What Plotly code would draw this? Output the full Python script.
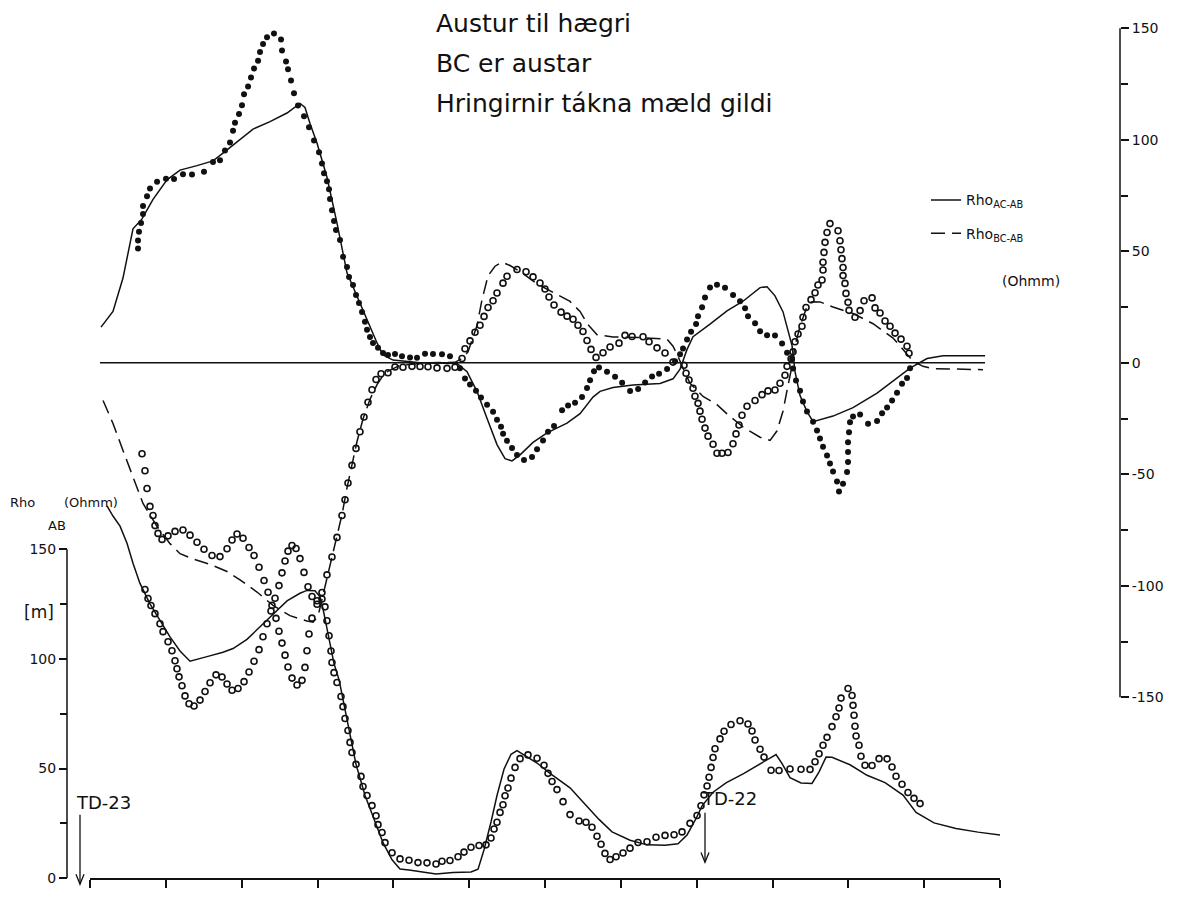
import plotly.graph_objects as go

# ---------------- data (x in distance units along the profile, 0..12 = tick marks) -------------
x_ticks = list(range(13))

# Top panel (right axis, Ohmm): calculated Rho_AC-AB (solid)
A_t = [0.145,0.303,0.435,0.567,0.686,0.831,1.015,1.187,1.411,1.622,1.754,1.939,2.150,2.374,2.598,2.769,2.835,2.901,2.994,3.125,
       3.257,3.389,3.521,3.653,3.785,3.864,3.996,4.352,4.840,4.972,5.104,5.236,5.367,5.473,5.565,5.671,5.842,6.027,6.290,6.462,
       6.633,6.726,6.897,7.161,7.517,7.688,7.781,7.873,7.952,8.176,8.400,8.611,8.836,8.928,9.033,9.139,9.205,9.258,9.297,9.363,
       9.455,9.535,9.798,10.062,10.379,10.590,10.814,11.038,11.249,11.803]
A_v = [16.0,23.0,38.0,60.1,64.5,73.3,82.0,86.4,88.4,90.5,94.0,99.2,104.8,108.1,112.0,116.3,114.5,107.3,98.4,83.2,
       62.6,40.3,29.6,19.2,8.9,3.5,1.2,0.0,-0.3,-4.0,-12.9,-25.0,-36.7,-43.0,-44.0,-41.3,-35.7,-31.4,-27.1,-22.8,
       -15.4,-12.8,-11.1,-10.0,-9.3,-7.2,-2.9,6.0,11.7,17.3,23.3,27.6,33.7,34.1,30.0,22.8,13.9,7.6,-4.0,-14.7,
       -21.9,-26.4,-23.9,-20.1,-13.6,-8.0,-2.4,1.9,3.1,3.1]

# calculated Rho_BC-AB (dashed)
B_t = [0.172,0.303,0.435,0.567,0.699,0.884,1.055,1.187,1.358,1.582,1.807,1.978,2.202,2.413,2.637,2.861,2.941,3.007,3.059,3.125,
       3.191,3.257,3.323,3.389,3.455,3.521,3.600,3.692,3.785,3.890,4.088,4.484,4.813,4.906,4.985,5.104,5.170,5.249,5.341,5.434,
       5.539,5.671,5.895,6.106,6.330,6.462,6.567,6.686,6.897,7.253,7.609,7.688,7.754,7.820,7.912,8.084,8.268,8.400,8.611,8.836,
       8.968,9.060,9.139,9.205,9.258,9.297,9.363,9.455,9.521,9.626,9.798,10.062,10.326,10.590,10.774,10.853,10.985,11.117,11.776]
B_v = [-16.9,-27.2,-39.3,-51.0,-63.1,-73.4,-81.1,-85.6,-88.0,-90.4,-93.6,-97.3,-102.8,-108.8,-113.4,-115.8,-116.3,-113.6,-106.1,-97.3,
       -88.4,-78.3,-68.1,-56.1,-46.0,-35.3,-25.2,-16.4,-9.8,-4.5,-1.1,0.0,0.2,1.9,4.9,16.8,28.4,39.0,43.3,45.1,
       43.6,40.9,35.4,31.7,27.5,23.0,17.1,12.6,11.6,11.3,10.6,7.4,2.9,-2.4,-9.2,-15.1,-18.8,-22.9,-28.8,-33.4,
       -34.8,-30.5,-21.6,-10.1,-1.3,7.6,16.4,25.2,27.4,27.3,25.0,22.1,17.5,11.1,3.8,0.7,-1.6,-2.6,-3.1]

# measured Rho_AC-AB (filled dots)
C_t = [0.633,0.633,0.646,0.673,0.699,0.699,0.752,0.791,0.884,1.002,1.108,1.226,1.345,1.503,1.622,1.714,1.780,1.846,1.886,1.912,
       1.965,2.004,2.031,2.084,2.123,2.163,2.216,2.242,2.282,2.334,2.426,2.519,2.532,2.585,2.611,2.651,2.690,2.743,2.822,2.888,
       2.954,3.020,3.059,3.086,3.125,3.152,3.165,3.191,3.218,3.244,3.297,3.337,3.389,3.416,3.468,3.508,3.547,3.587,3.626,3.653,
       3.692,3.732,3.798,3.864,3.930,4.022,
       4.114,4.220,4.312,4.418,4.523,4.642,4.747,4.879,4.945,5.011,5.090,5.156,5.236,5.315,5.367,5.420,5.447,5.499,5.565,5.631,
       5.723,5.829,5.895,5.974,6.040,6.119,6.225,6.304,6.396,6.488,6.554,6.594,6.646,6.712,6.818,6.924,7.017,7.122,7.228,7.320,
       7.412,7.504,7.610,7.715,7.781,7.820,7.873,7.926,7.992,8.018,8.071,8.110,8.176,8.268,8.374,8.480,8.572,8.638,8.677,8.770,
       8.836,8.928,9.033,9.126,9.192,9.258,9.271,9.310,9.363,9.402,9.455,9.535,9.587,9.626,9.666,9.719,9.758,9.798,9.851,9.877,
       9.930,9.983,9.996,9.996,9.996,10.009,10.022,10.062,10.155,10.260,10.379,10.445,10.511,10.577,10.642,10.708,10.774,10.814]
C_v = [51.2,54.8,58.8,62.7,66.7,70.3,74.7,78.2,81.2,82.5,82.4,84.5,84.4,85.7,90.0,90.8,95.2,98.8,104.0,107.6,
       111.6,115.5,120.4,123.9,127.9,131.9,135.4,139.4,142.9,146.0,147.7,144.9,140.0,135.1,131.6,126.6,120.8,115.4,110.5,105.6,
       99.7,94.4,89.4,85.0,81.4,77.8,73.4,68.4,63.6,59.5,55.0,47.5,43.0,38.5,34.9,30.4,26.8,22.8,18.4,14.8,
       11.6,8.9,6.7,4.4,3.5,3.9,
       2.9,2.4,2.3,4.0,3.9,3.8,2.9,-2.5,-7.0,-9.7,-12.5,-15.6,-18.8,-22.0,-25.6,-28.7,-31.8,-35.0,-38.2,-41.3,
       -43.6,-42.3,-38.8,-34.9,-30.9,-28.4,-21.3,-19.2,-17.9,-15.3,-11.3,-7.8,-3.8,-2.1,-4.0,-6.3,-9.0,-12.6,-11.8,-8.8,
       -6.2,-4.9,-2.8,0.7,3.8,6.4,10.4,13.9,17.4,20.9,24.9,29.3,33.7,35.0,33.6,30.4,27.6,24.5,20.9,17.7,
       14.1,12.3,12.2,8.6,4.5,1.8,-2.6,-8.0,-12.5,-17.4,-21.9,-26.4,-30.4,-34.0,-37.6,-41.6,-45.2,-48.8,-53.2,-57.7,
       -54.2,-49.0,-44.5,-40.0,-35.6,-31.2,-26.7,-24.1,-23.2,-27.3,-26.1,-22.6,-20.0,-16.9,-13.4,-9.4,-6.8,-2.4]

# measured Rho_BC-AB (open circles)
D_t = [0.686,0.725,0.752,0.791,0.831,0.857,0.897,0.950,1.029,1.121,1.226,1.319,1.411,1.503,1.609,1.714,1.807,1.873,1.939,2.018,
       2.097,2.163,2.229,2.295,2.348,2.400,2.453,2.492,2.532,2.572,2.611,2.664,2.730,2.796,2.835,2.861,2.888,2.927,2.994,3.059,
       3.125,3.191,3.257,3.323,3.363,3.402,3.455,3.508,3.560,3.613,3.666,3.719,3.772,3.838,3.930,4.022,4.127,4.246,4.352,4.457,
       4.576,4.708,4.813,
       4.906,4.945,5.011,5.077,5.143,5.196,5.249,5.315,5.367,5.446,5.499,5.631,5.750,5.842,5.934,6.000,6.053,6.119,6.212,6.291,
       6.370,6.435,6.501,6.554,6.607,6.673,6.765,6.858,6.976,7.055,7.148,7.293,7.372,7.477,7.583,7.688,7.833,7.860,7.899,7.952,
       7.978,8.018,8.044,8.071,8.110,8.150,8.216,8.268,8.334,8.413,8.479,8.519,8.558,8.598,8.664,8.770,8.862,8.941,9.033,9.099,
       9.165,9.192,9.245,9.271,9.297,9.337,9.389,9.402,9.442,9.508,9.561,9.600,9.653,9.666,9.666,9.679,9.693,9.719,9.758,9.864,
       9.890,9.903,9.916,9.930,9.930,9.956,9.969,9.996,10.009,10.088,10.155,10.207,10.313,10.352,10.418,10.484,10.550,10.616,10.695,10.774,
       10.800]
D_v = [-40.8,-48.4,-56.4,-64.4,-68.5,-73.0,-76.5,-79.2,-77.6,-75.6,-75.0,-77.3,-80.5,-83.6,-86.4,-86.9,-83.4,-79.5,-76.8,-78.7,
       -82.8,-86.4,-91.7,-97.6,-102.9,-108.8,-114.6,-120.4,-125.7,-131.1,-136.4,-141.4,-144.5,-142.4,-136.6,-129.1,-121.6,-114.5,-108.3,-103.0,
       -95.1,-87.1,-78.3,-68.5,-61.4,-53.9,-46.0,-38.4,-30.9,-24.3,-17.7,-12.1,-7.5,-4.9,-4.5,-1.9,-2.0,-1.6,-1.7,-1.8,
       -2.3,-2.5,-2.0,
       1.9,6.3,9.8,13.7,16.8,20.8,24.8,27.8,31.3,35.7,38.8,41.8,40.8,38.5,35.8,33.1,29.5,25.9,22.7,20.9,
       19.5,16.8,14.0,10.0,6.0,2.4,4.5,7.1,8.8,12.3,11.8,11.7,9.4,6.7,4.4,0.3,-1.1,-4.7,-7.7,-11.4,
       -15.0,-18.2,-21.7,-25.3,-29.3,-32.9,-36.5,-40.6,-40.6,-40.2,-36.3,-31.9,-27.9,-23.5,-19.5,-16.9,-14.3,-12.6,-12.2,-9.2,
       -5.6,-1.6,1.8,4.9,9.4,12.9,16.4,20.4,24.8,28.3,31.4,34.9,37.1,41.6,45.1,49.5,54.0,58.4,62.4,59.2,
       54.7,50.7,46.7,42.7,39.1,35.6,31.1,27.1,23.5,20.4,23.4,27.8,29.1,24.6,22.3,18.7,16.4,13.3,10.6,7.4,
       4.3]

# Bottom panel (left axis, Rho_AB Ohmm): calculated (solid)
E_t = [0.224,0.303,0.396,0.488,0.567,0.659,0.791,0.923,1.055,1.187,1.319,1.543,1.754,1.886,2.070,2.242,2.413,2.598,2.769,2.862,
       2.967,3.033,3.073,3.125,3.165,3.218,3.284,3.402,3.508,3.627,3.745,3.864,3.983,4.088,4.207,4.325,4.563,4.787,5.024,5.117,
       5.196,5.288,5.367,5.460,5.552,5.631,5.750,5.895,6.066,6.330,6.501,6.712,6.884,7.121,7.345,7.583,7.754,7.873,7.992,8.071,
       8.216,8.387,8.624,8.862,8.981,9.047,9.126,9.231,9.376,9.521,9.614,9.706,9.785,10.022,10.247,10.484,10.721,10.893,11.130,11.420,
       11.710,12.0]
E_v = [169.7,165.1,160.5,152.7,143.6,134.4,125.1,117.4,110.0,103.6,98.9,101.0,103.0,104.7,108.9,114.6,120.3,126.4,129.9,131.2,
       131.0,128.3,122.8,113.7,106.9,97.8,90.5,70.5,51.9,37.7,27.2,16.2,8.4,4.2,3.7,3.1,1.9,2.6,2.8,4.1,
       13.0,25.6,37.7,49.8,56.5,58.2,55.8,52.5,47.8,41.2,34.7,26.8,21.1,17.3,15.2,15.0,15.7,19.7,27.2,33.0,
       39.2,43.5,47.8,52.5,55.1,56.4,52.2,45.8,43.4,43.2,48.5,55.2,55.1,51.7,46.9,43.6,37.9,30.0,25.2,22.7,
       21.0,19.7]

# measured Rho_AB (open circles)
F_t = [0.725,0.765,0.804,0.857,0.923,0.963,1.029,1.081,1.121,1.147,1.174,1.213,1.253,1.306,1.372,1.451,1.517,1.583,1.662,1.741,
       1.807,1.873,1.952,2.031,2.097,2.163,2.229,2.281,2.334,2.387,2.440,2.492,2.532,2.572,2.611,2.664,2.717,2.769,2.822,2.875,
       2.928,2.994,3.059,3.099,3.125,3.152,3.178,3.191,3.218,3.257,3.310,3.336,3.363,3.402,3.429,3.455,3.508,3.574,3.600,3.653,
       3.719,3.772,3.798,3.851,3.890,3.983,4.088,4.207,4.325,4.444,4.563,4.642,4.747,4.853,4.932,5.024,5.130,5.222,5.288,5.328,
       5.367,5.407,5.446,5.473,5.512,5.552,5.605,5.671,5.776,5.895,5.987,6.040,6.093,6.158,6.238,6.330,6.449,6.541,6.620,6.686,
       6.739,6.791,6.858,6.937,7.029,7.121,7.227,7.345,7.464,7.583,7.702,7.807,7.912,8.005,8.057,8.097,8.137,8.163,8.190,8.216,
       8.242,8.308,8.361,8.453,8.572,8.677,8.730,8.770,8.836,8.888,8.981,9.086,9.231,9.376,9.495,9.561,9.614,9.666,9.719,9.785,
       9.838,9.877,9.904,9.996,10.049,10.062,10.075,10.088,10.102,10.141,10.167,10.220,10.313,10.405,10.511,10.576,10.629,10.708,10.787,10.866,
       10.946]
F_v = [131.6,127.5,124.3,120.6,116.0,112.4,107.8,103.7,99.1,95.5,91.8,87.7,83.1,79.5,78.5,81.2,85.1,89.1,92.7,91.7,
       88.5,85.7,86.5,89.6,94.0,98.9,104.2,110.1,116.0,121.8,127.6,133.4,139.2,144.6,149.1,151.7,150.3,145.7,139.4,132.9,
       128.4,126.5,127.3,123.7,117.4,110.5,103.6,98.3,93.7,89.2,82.8,78.2,72.8,67.3,61.9,57.3,51.9,46.4,41.8,37.7,
       33.1,28.5,24.4,20.8,16.2,11.6,8.8,8.2,7.1,7.0,6.5,7.7,8.1,9.8,11.9,14.1,14.9,15.2,18.3,22.4,
       25.5,30.0,33.5,37.6,41.1,45.6,50.5,54.5,56.2,54.7,51.5,47.8,44.1,40.4,34.9,29.0,26.1,25.5,23.2,19.1,
       15.5,11.3,8.5,9.8,11.5,13.7,16.3,16.6,18.7,19.5,19.8,21.1,25.0,28.6,33.0,38.0,42.0,46.0,50.5,55.0,
       59.0,63.5,67.0,70.1,71.8,70.3,67.1,63.0,58.8,55.2,49.2,49.1,49.8,49.7,49.6,53.1,56.7,60.6,64.2,69.1,
       73.6,77.6,82.1,86.5,83.3,78.8,74.3,69.3,64.8,60.6,55.6,51.5,51.4,54.5,54.4,50.7,46.5,42.8,39.1,36.4,
       34.0]

left_tickvals = [0, 50, 100, 150]
left_ticktext = ["0", "50", "100", "150"]
left_minor = [25, 75, 125]
right_tickvals = [-150, -100, -50, 0, 50, 100, 150]
right_ticktext = ["-150", "-100", "-50", "0", "50", "100", "150"]
right_minor = [-125, -75, -25, 25, 75, 125]

# ---------------- layout geometry (pixels) ----------------
W, H = 1186, 908
XL, XR = 90, 1000          # x-axis span
BOT0, PX_AB = 886, 2.213   # pixel row of Rho_AB = 0, px per Ohmm
TOP0, PX_D = 366, 2.25     # pixel row of difference = 0, px per Ohmm
LEFT_AX, RIGHT_AX = 67, 1120
FONT = "DejaVu Sans"
INK = "#111111"

fig = go.Figure()

line_kw = dict(color=INK, width=1.5)
fig.add_trace(go.Scatter(x=A_t, y=A_v, yaxis="y2", mode="lines", line=line_kw,
                         name="Rho<sub>AC-AB</sub>", legendgroup="a"))
fig.add_trace(go.Scatter(x=B_t, y=B_v, yaxis="y2", mode="lines",
                         line=dict(color=INK, width=1.5, dash="14px,7px"),
                         name="Rho<sub>BC-AB</sub>", legendgroup="b"))
fig.add_trace(go.Scatter(x=C_t, y=C_v, yaxis="y2", mode="markers", showlegend=False,
                         marker=dict(symbol="circle", size=6, color=INK)))
fig.add_trace(go.Scatter(x=D_t, y=D_v, yaxis="y2", mode="markers", showlegend=False,
                         marker=dict(symbol="circle-open", size=6, color=INK, line=dict(width=1.6, color=INK))))
fig.add_trace(go.Scatter(x=E_t, y=E_v, yaxis="y", mode="lines", line=line_kw, showlegend=False))
fig.add_trace(go.Scatter(x=F_t, y=F_v, yaxis="y", mode="markers", showlegend=False,
                         marker=dict(symbol="circle-open", size=6, color=INK, line=dict(width=1.6, color=INK))))

tickfont = dict(family=FONT, size=14, color=INK)
dom = [1 - BOT0 / H, 1]

fig.update_layout(
    width=W, height=H,
    margin=dict(l=0, r=0, t=0, b=0),
    paper_bgcolor="white", plot_bgcolor="rgba(0,0,0,0)",
    font=dict(family=FONT, color=INK),
    xaxis=dict(domain=[XL / W, XR / W], range=[0, 12], anchor="y",
               showline=True, linecolor=INK, linewidth=1.5,
               tickmode="array", tickvals=x_ticks, ticks="outside", ticklen=8, tickwidth=1.5, tickcolor=INK,
               showticklabels=False, showgrid=False, zeroline=False),
    yaxis=dict(domain=dom, range=[0, BOT0 / PX_AB], anchor="free", position=LEFT_AX / W,
               showline=False, showgrid=False, zeroline=False,
               tickmode="array", tickvals=left_tickvals, ticktext=left_ticktext,
               ticks="outside", ticklen=8, tickwidth=1.5, tickcolor=INK, tickfont=tickfont,
               minor=dict(tickmode="array", tickvals=left_minor, ticks="outside", ticklen=7,
                          tickwidth=1.5, tickcolor=INK, showgrid=False)),
    yaxis2=dict(overlaying="y", side="right", anchor="free", position=RIGHT_AX / W,
                range=[-(BOT0 - TOP0) / PX_D, TOP0 / PX_D],
                showline=False, showgrid=False, zeroline=False,
                tickmode="array", tickvals=right_tickvals, ticktext=right_ticktext,
                ticks="outside", ticklen=8, tickwidth=1.5, tickcolor=INK, tickfont=tickfont,
                minor=dict(tickmode="array", tickvals=right_minor, ticks="outside", ticklen=7,
                           tickwidth=1.5, tickcolor=INK, showgrid=False)),
    legend=dict(x=926 / W, y=1 - 186 / H, xanchor="left", yanchor="top",
                bgcolor="rgba(0,0,0,0)", font=dict(family=FONT, size=14, color=INK),
                tracegroupgap=12, itemwidth=30),
    showlegend=True,
)

# axis lines spanning only the labelled ranges, and the zero line of the upper panel
fig.add_shape(type="line", xref="paper", yref="y", x0=LEFT_AX / W, x1=LEFT_AX / W, y0=0, y1=150,
              line=dict(color=INK, width=1.5))
fig.add_shape(type="line", xref="paper", yref="y2", x0=RIGHT_AX / W, x1=RIGHT_AX / W, y0=-150, y1=150,
              line=dict(color=INK, width=1.5))
fig.add_shape(type="line", xref="x", yref="y2", x0=A_t[0] - 0.013, x1=A_t[-1], y0=0, y1=0,
              line=dict(color=INK, width=1.5))

def ann(text, px, py, size, xanchor="left", yanchor="middle"):
    fig.add_annotation(text=text, xref="paper", yref="paper", x=px / W, y=1 - py / H,
                       xanchor=xanchor, yanchor=yanchor, showarrow=False,
                       font=dict(family=FONT, size=size, color=INK))

ann("Austur til hægri", 434, 24, 25)
ann("BC er austar", 434, 64, 25)
ann("Hringirnir tákna mæld gildi", 434, 104, 25)
ann("(Ohmm)", 1000, 283, 14)
ann("Rho", 8, 507, 13)
ann("(Ohmm)", 62, 507, 13)
ann("AB", 46, 530, 13)
ann("[m]", 22, 617, 17)
ann("TD-23", 74, 810, 18)
ann("TD-22", 700, 806, 18)

def px2p(px, py):
    return px / W, 1 - py / H

def arrow(px, y_tail, y_head):
    xa, ya = px2p(px, y_tail)
    xb, yb = px2p(px, y_head)
    fig.add_shape(type="line", xref="paper", yref="paper", x0=xa, y0=ya, x1=xb, y1=yb,
                  line=dict(color=INK, width=1.3))
    l1 = px2p(px - 4, y_head - 10)
    r1 = px2p(px + 4, y_head - 10)
    fig.add_shape(type="path", xref="paper", yref="paper",
                  path=f"M {l1[0]} {l1[1]} L {xb} {yb} L {r1[0]} {r1[1]}",
                  line=dict(color=INK, width=1.3))

arrow(80, 822, 892)
arrow(705, 820, 870)

fig.write_html("out.html")
